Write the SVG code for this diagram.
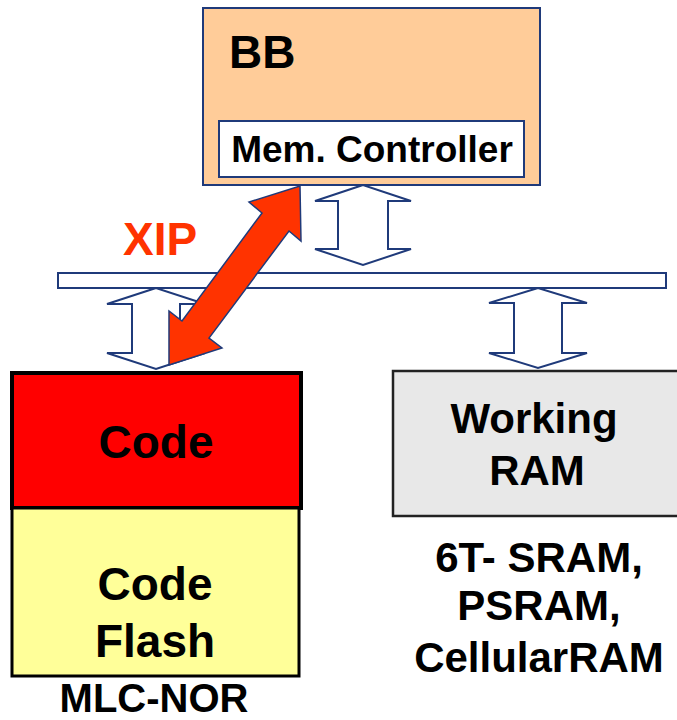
<svg xmlns="http://www.w3.org/2000/svg" width="677" height="720" viewBox="0 0 677 720">
<style>
text{font-family:"Liberation Sans",Arial,sans-serif;font-weight:bold;fill:#000}
.nav{stroke:#1F3A7A;stroke-width:2;stroke-linejoin:miter}
.arr{fill:#fff;stroke:#1F3A7A;stroke-width:2}
.c{text-anchor:middle}
</style>
<rect width="677" height="720" fill="#fff"/>
<g id="bb">
<rect x="203" y="8" width="337" height="177" fill="#FFCC99" class="nav"/>
<text x="229" y="68" font-size="46">BB</text>
</g>
<g id="memctrl">
<rect x="219" y="121" width="305" height="56" fill="#fff" class="nav"/>
<text x="372" y="162" font-size="37" class="c">Mem. Controller</text>
</g>
<g id="bus">
<rect x="58" y="273" width="608" height="15" fill="#fff" class="nav"/>
</g>
<g id="code">
<rect x="12" y="373" width="289" height="135" fill="#FF0000" stroke="#000" stroke-width="4"/>
<text x="156" y="458" font-size="46" class="c">Code</text>
</g>
<g id="flash">
<rect x="12" y="508" width="287" height="168" fill="#FFFF99" stroke="#000" stroke-width="3"/>
<text x="155" y="600" font-size="46" class="c">Code</text>
<text x="155" y="657" font-size="46" class="c">Flash</text>
</g>
<text x="154" y="712" font-size="40" class="c">MLC-NOR</text>
<g id="ram">
<rect x="393" y="371" width="290" height="145" fill="#E8E8E8" stroke="#222" stroke-width="2.5"/>
<text x="534" y="433" font-size="42" class="c">Working</text>
<text x="537" y="485" font-size="42" class="c">RAM</text>
</g>
<text x="539" y="572" font-size="42" class="c">6T- SRAM,</text>
<text x="539" y="620" font-size="42" class="c">PSRAM,</text>
<text x="539" y="672" font-size="42" class="c">CellularRAM</text>
<g id="connectors">
<polygon class="arr" points="363,185 315,201 338,201 338,249 315,249 363,265 411,249 388,249 388,201 411,201"/>
<polygon class="arr" points="156,288 107,304 132,304 132,353 107,353 156,369 205,353 180,353 180,304 205,304"/>
<polygon class="arr" points="538,288 489,303 514,303 514,353 489,353 538,368 587,353 562,353 562,303 587,303"/>
<polygon points="300,186 301,241 289,231 209,338 222,348 169,365 169,311 182,321 262,213 249,202" fill="#FF3300" stroke="#1F3A7A" stroke-width="1.5"/>
</g>
<text x="123" y="255" font-size="46" fill="#FF3300" style="fill:#FF3300">XIP</text>
</svg>
